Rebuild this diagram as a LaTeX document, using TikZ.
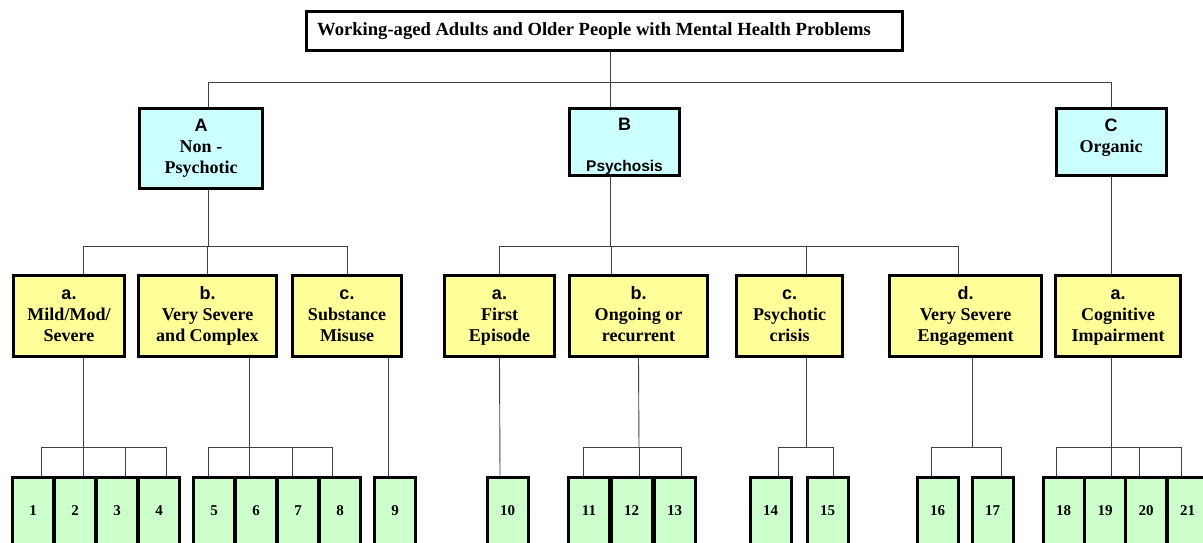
\documentclass[tikz,border=0pt]{standalone}
\usepackage{fontspec}
\setmainfont{Liberation Serif}
\setsansfont{Liberation Sans}
\definecolor{catcyan}{HTML}{CCFFFF}
\definecolor{subyellow}{HTML}{FFFF99}
\definecolor{leafgreen}{HTML}{CCFFCC}
% three lines of a sub group box: letter, then two lines of text
\newcommand{\subtext}[3]{\strut\textsf{#1}\\#2\\#3\strut}
\begin{document}
\begin{tikzpicture}[x=1pt, y=-1pt,
  box/.style={draw, line width=3pt, align=center, inner sep=0pt,
    font=\fontsize{18}{21}\selectfont\bfseries},
  titlebox/.style={box, fill=white, minimum width=596, minimum height=39,
    font=\fontsize{18.6}{21}\selectfont\bfseries},
  catbox/.style={box, fill=catcyan, minimum width=110},
  subbox/.style={box, fill=subyellow, minimum height=81},
  leafbox/.style={box, fill=leafgreen, anchor=north, minimum width=41,
    text height=38pt, text depth=45pt, font=\fontsize{15}{18}\selectfont\bfseries},
  link/.style={line width=0.9pt, black!75}]
  \useasboundingbox (0,0) rectangle (1203,542);
  \clip (0,0) rectangle (1203,542);
  % Title
  \node[titlebox] (top) at (604.5,31)
    {Working-aged Adults and Older People with Mental Health Problems\hspace*{21pt}};
  % Main groups
  \node[catbox, minimum width=123, minimum height=80] (A) at (201,148.5)
    {\textsf{A}\\Non -\\Psychotic};
  \node[catbox, minimum height=67] (B) at (624.5,142)
    {\rule{0pt}{21pt}\textsf{B}\\[20pt]{\fontsize{15.5}{18}\selectfont\textsf{Psychosis}}};
  \node[catbox, minimum height=67] (C) at (1111,142)
    {\rule{0pt}{21pt}\textsf{C}\\Organic\\\mbox{}};
  % Sub groups
  \node[subbox, minimum width=111] (Aa) at (69,316) {\subtext{a.}{Mild/Mod/}{Severe}};
  \node[subbox, minimum width=138] (Ab) at (207.5,316) {\subtext{b.}{Very Severe}{and Complex}};
  \node[subbox, minimum width=109] (Ac) at (347,316) {\subtext{c.}{Substance}{Misuse}};
  \node[subbox, minimum width=110] (Ba) at (499.5,316) {\subtext{a.}{First}{Episode}};
  \node[subbox, minimum width=138] (Bb) at (638.5,316) {\subtext{b.}{Ongoing or}{recurrent}};
  \node[subbox, minimum width=106] (Bc) at (789.5,316) {\subtext{c.}{Psychotic}{crisis}};
  \node[subbox, minimum width=152] (Bd) at (965.5,316) {\subtext{d.}{Very Severe}{Engagement}};
  \node[subbox, minimum width=125] (Ca) at (1118,316) {\subtext{a.}{Cognitive}{Impairment}};
  % Leaves
  \foreach \n/\x in {1/33, 2/75, 3/117, 4/159, 5/214, 6/256, 7/298, 8/340,
                     9/395, 10/507.5, 11/589, 12/631.5, 13/674.5, 14/770.5,
                     15/827.5, 16/937.5, 17/992.5, 18/1063.5, 19/1105,
                     20/1146, 21/1187.5}{
    \node[leafbox] (l\n) at (\x,475.5) {\n};
  }
  % Title to main groups
  \coordinate (jTop) at (610,82);
  \draw[link] ([xshift=5.5]top.south) -- (jTop);
  \foreach \c/\dx in {A/7, B/-14.5, C/0}
    \draw[link] (jTop) -| ([xshift=\dx]\c.north);
  % A to sub groups
  \coordinate (jA) at (208,246);
  \draw[link] ([xshift=7]A.south) -- (jA);
  \foreach \c/\dx in {Aa/14, Ab/0, Ac/0}
    \draw[link] (jA) -| ([xshift=\dx]\c.north);
  % B to sub groups
  \coordinate (jB) at (610,246);
  \draw[link] ([xshift=-14.5]B.south) -- (jB);
  \foreach \c/\dx in {Ba/0, Bb/-27.5, Bc/16.5, Bd/-7.5}
    \draw[link] (jB) -| ([xshift=\dx]\c.north);
  % C to sub group
  \draw[link] (C.south) -- ([xshift=-7]Ca.north);
  % Sub groups to leaves
  \coordinate (jAa) at (83,447);
  \draw[link] ([xshift=14]Aa.south) -- (jAa);
  \foreach \n/\dx in {1/8, 2/8, 3/8, 4/7}
    \draw[link] (jAa) -| ([xshift=\dx]l\n.north);
  \coordinate (jAb) at (249,447);
  \draw[link] ([xshift=41.5]Ab.south) -- (jAb);
  \foreach \n/\dx in {5/-6, 6/-7, 7/-6, 8/-8}
    \draw[link] (jAb) -| ([xshift=\dx]l\n.north);
  \draw[link] ([xshift=41]Ac.south) -- ([xshift=-7]l9.north);
  \draw[link] (Ba.south) -- ([xshift=-7.5]l10.north);
  \coordinate (jBb) at (639,447);
  \draw[link] (Bb.south) -- (jBb);
  \foreach \n/\dx in {11/-6, 12/7.5, 13/6.5}
    \draw[link] (jBb) -| ([xshift=\dx]l\n.north);
  \coordinate (jBc) at (806,447);
  \draw[link] ([xshift=16.5]Bc.south) -- (jBc);
  \foreach \n/\dx in {14/7.5, 15/5.5}
    \draw[link] (jBc) -| ([xshift=\dx]l\n.north);
  \coordinate (jBd) at (972,447);
  \draw[link] ([xshift=6.5]Bd.south) -- (jBd);
  \foreach \n/\dx in {16/-6.5, 17/8.5}
    \draw[link] (jBd) -| ([xshift=\dx]l\n.north);
  \coordinate (jCa) at (1111,447);
  \draw[link] ([xshift=-7]Ca.south) -- (jCa);
  \foreach \n/\dx in {18/-7.5, 19/6, 20/-7, 21/-6.5}
    \draw[link] (jCa) -| ([xshift=\dx]l\n.north);
\end{tikzpicture}
\end{document}
